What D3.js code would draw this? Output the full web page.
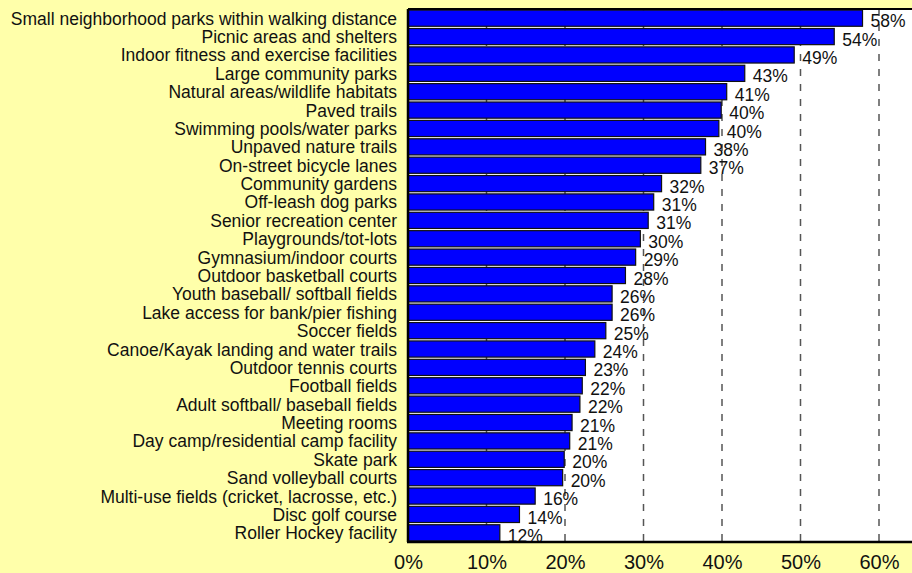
<!DOCTYPE html>
<html>
<head>
<meta charset="utf-8">
<script src="https://cdn.jsdelivr.net/npm/d3@7"></script>
<style>
  body { margin: 0; background: #ffffaa; }
  svg { display: block; font-family: Arial, "Liberation Sans", sans-serif; }
</style>
</head>
<body>
<div id="chart"></div>
<script>
const W = 912, H = 573;

const categories = [
    "Small neighborhood parks within walking distance",
    "Picnic areas and shelters",
    "Indoor fitness and exercise facilities",
    "Large community parks",
    "Natural areas/wildlife habitats",
    "Paved trails",
    "Swimming pools/water parks",
    "Unpaved nature trails",
    "On-street bicycle lanes",
    "Community gardens",
    "Off-leash dog parks",
    "Senior recreation center",
    "Playgrounds/tot-lots",
    "Gymnasium/indoor courts",
    "Outdoor basketball courts",
    "Youth baseball/ softball fields",
    "Lake access for bank/pier fishing",
    "Soccer fields",
    "Canoe/Kayak landing and water trails",
    "Outdoor tennis courts",
    "Football fields",
    "Adult softball/ baseball fields",
    "Meeting rooms",
    "Day camp/residential camp facility",
    "Skate park",
    "Sand volleyball courts",
    "Multi-use fields (cricket, lacrosse, etc.)",
    "Disc golf course",
    "Roller Hockey facility"
];

// percent of respondents
const values = [57.9, 54.3, 49.2, 42.9, 40.6, 39.9, 39.6, 37.9, 37.3, 32.3,
    31.3, 30.6, 29.6, 29.0, 27.7, 26.0, 26.0, 25.2, 23.8, 22.6,
    22.2, 21.9, 20.9, 20.6, 19.9, 19.7, 16.2, 14.2, 11.7];

const tickValues = [0, 10, 20, 30, 40, 50, 60];

const M = {left: 408, top: 9, bottom: 542};

const svg = d3.select("#chart").append("svg")
    .attr("width", W)
    .attr("height", H);

svg.append("rect")
    .attr("width", W).attr("height", H)
    .attr("fill", "#ffffaa");

// plot area runs past the right edge (0-70% domain)
const x = d3.scaleLinear().domain([0, 70]).range([M.left, M.left + 7 * 78.5]);
const y = d3.scaleBand().domain(categories).range([M.top, M.bottom]).paddingInner(0.12).paddingOuter(0.06);

svg.append("rect")
    .attr("x", M.left)
    .attr("y", M.top)
    .attr("width", x(70) - M.left)
    .attr("height", M.bottom - M.top)
    .attr("fill", "white");

// gridlines
svg.append("g")
    .selectAll("line")
    .data(tickValues.slice(1))
    .enter()
    .append("line")
    .attr("x1", d => x(d)).attr("x2", d => x(d))
    .attr("y1", M.top).attr("y2", M.bottom)
    .attr("stroke", "#555")
    .attr("stroke-width", 1.5)
    .attr("stroke-dasharray", "7,8");

// bars
svg.append("g")
    .selectAll("rect")
    .data(values)
    .enter()
    .append("rect")
    .attr("x", x(0))
    .attr("y", (d, i) => y(categories[i]))
    .attr("width", d => x(d) - x(0))
    .attr("height", y.bandwidth())
    .attr("fill", "#0000ff")
    .attr("stroke", "#111")
    .attr("stroke-width", 1.2);

// value labels
svg.append("g")
    .selectAll("text")
    .data(values)
    .enter()
    .append("text")
    .attr("x", d => x(d) + 8)
    .attr("y", (d, i) => y(categories[i]) + y.bandwidth() + 1)
    .style("font-size", "17.5px")
    .attr("fill", "#111")
    .text(d => Math.round(d) + "%");

// category labels
svg.append("g")
    .selectAll("text")
    .data(categories)
    .enter()
    .append("text")
    .attr("x", 397)
    .attr("y", d => y(d) + y.bandwidth() / 2 + 6.5)
    .attr("text-anchor", "end")
    .style("font-size", "17.5px")
    .attr("fill", "#111")
    .text(d => d);

// plot frame
svg.append("line")
    .attr("x1", M.left).attr("x2", W)
    .attr("y1", M.top).attr("y2", M.top)
    .attr("stroke", "black").attr("stroke-width", 2);
svg.append("line")
    .attr("x1", M.left).attr("x2", M.left)
    .attr("y1", M.top).attr("y2", M.bottom)
    .attr("stroke", "black").attr("stroke-width", 2.5);
svg.append("line")
    .attr("x1", M.left - 1).attr("x2", W)
    .attr("y1", M.bottom).attr("y2", M.bottom)
    .attr("stroke", "black").attr("stroke-width", 2.5);

// x axis labels
const xAxis = svg.append("g")
    .attr("transform", `translate(0, ${M.bottom})`)
    .call(d3.axisBottom(x).tickValues(tickValues).tickSize(0).tickPadding(13).tickFormat(d => d + "%"));
xAxis.select(".domain").remove();
xAxis.selectAll("text")
    .style("font-size", "20px")
    .style("font-family", "Arial, 'Liberation Sans', sans-serif")
    .attr("fill", "#111");
</script>
</body>
</html>
